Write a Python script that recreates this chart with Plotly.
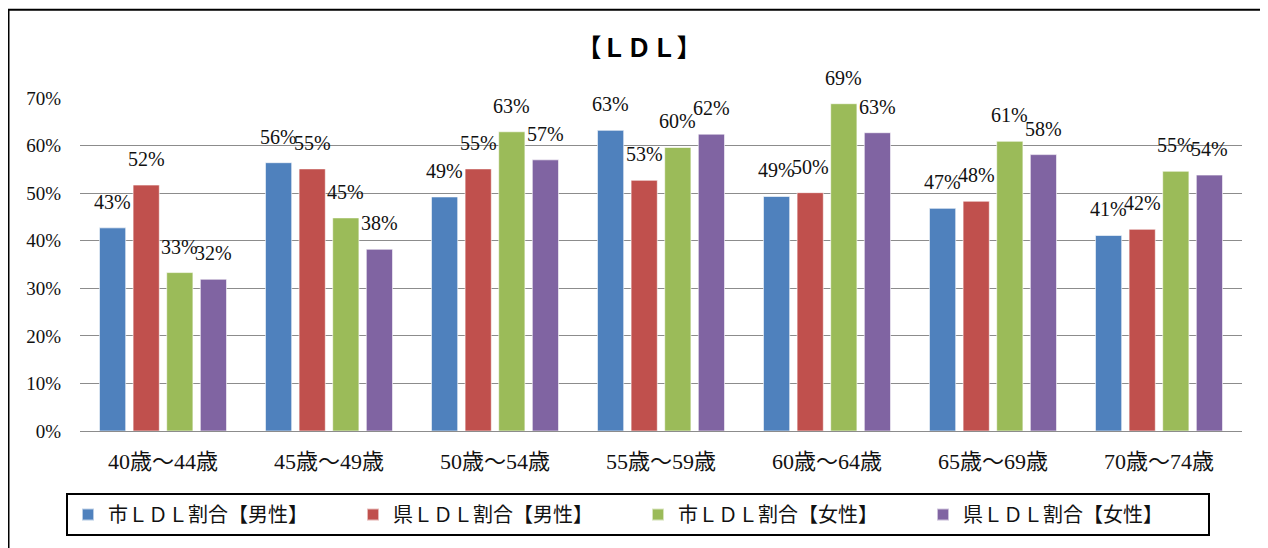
import plotly.graph_objects as go

categories = ["40歳～44歳", "45歳～49歳", "50歳～54歳", "55歳～59歳",
              "60歳～64歳", "65歳～69歳", "70歳～74歳"]
series_names = ["市ＬＤＬ割合【男性】", "県ＬＤＬ割合【男性】",
                "市ＬＤＬ割合【女性】", "県ＬＤＬ割合【女性】"]
city_male = [0.427, 0.564, 0.492, 0.632, 0.493, 0.468, 0.411]
pref_male = [0.517, 0.551, 0.551, 0.527, 0.501, 0.483, 0.424]
city_female = [0.333, 0.448, 0.629, 0.596, 0.688, 0.609, 0.546]
pref_female = [0.319, 0.382, 0.570, 0.624, 0.627, 0.581, 0.538]
series_values = [city_male, pref_male, city_female, pref_female]
y_ticks = [0, 0.1, 0.2, 0.3, 0.4, 0.5, 0.6, 0.7]
y_ticktext = ["0%", "10%", "20%", "30%", "40%", "50%", "60%", "70%"]

colors = ["#4F81BD", "#C0504D", "#9BBB59", "#8064A2"]

# the page body has an 8px margin, so the figure is sized to fit the window
W, H = 1260, 540
ML, MR, MT, MB = 72, 26, 90, 112
PW, PH = W - ML - MR, H - MT - MB
BARGAP, BARGROUPGAP = 0.19, 0.22
NUM = "Liberation Serif, 'Noto Sans CJK JP', serif"
CJK = "'Noto Sans CJK JP', serif"

fig = go.Figure()
for j, (name, vals) in enumerate(zip(series_names, series_values)):
    fig.add_trace(go.Bar(
        x=categories, y=vals, name=name,
        marker=dict(color=colors[j], line=dict(color="rgba(255,255,255,0.6)", width=1)),
    ))

annotations = []
slot = (1 - BARGAP) / len(series_values)
for j, vals in enumerate(series_values):
    for i, v in enumerate(vals):
        annotations.append(dict(
            x=i + (j - (len(series_values) - 1) / 2) * slot, y=v,
            xref="x", yref="y", text=f"{round(v * 100)}%",
            showarrow=False, yanchor="middle", yshift=26,
            font=dict(family=NUM, size=20, color="#111111"),
        ))

fig.update_layout(
    width=W, height=H,
    margin=dict(l=ML, r=MR, t=MT, b=MB),
    paper_bgcolor="white", plot_bgcolor="white",
    barmode="group", bargap=BARGAP, bargroupgap=BARGROUPGAP,
    title=dict(text="<b>【ＬＤＬ】</b>", x=631 / W, xanchor="center",
               y=1 - 40 / H, yanchor="middle",
               font=dict(family=CJK, size=25, color="#000000")),
    xaxis=dict(type="category", showgrid=False, showline=False, ticks="",
               ticklabelstandoff=15,
               tickfont=dict(family=NUM, size=22, color="#111111")),
    yaxis=dict(range=[0, 0.7], tickvals=y_ticks, ticktext=y_ticktext,
               showgrid=True, gridcolor="#8c8c8c", gridwidth=1.4,
               zeroline=True, zerolinecolor="#8c8c8c", zerolinewidth=1.4,
               showline=False, ticks="", ticklabelstandoff=18,
               tickfont=dict(family=NUM, size=19, color="#111111")),
    legend=dict(orientation="h", x=(630 - ML) / PW, xanchor="center",
                y=-63 / PH, yanchor="top",
                bordercolor="#000000", borderwidth=2,
                font=dict(family=CJK, size=20, color="#111111"),
                entrywidth=240, entrywidthmode="pixels", itemsizing="constant",
                traceorder="normal"),
    annotations=annotations,
    shapes=[dict(type="rect", xref="paper", yref="paper",
                 x0=(0.5 - ML) / PW, x1=(1400 - ML) / PW,
                 y0=-(700 - (MT + PH)) / PH, y1=(MT + PH - 0.5) / PH,
                 line=dict(color="#000000", width=2), fillcolor="rgba(0,0,0,0)")],
)

fig.write_html("out.html")
